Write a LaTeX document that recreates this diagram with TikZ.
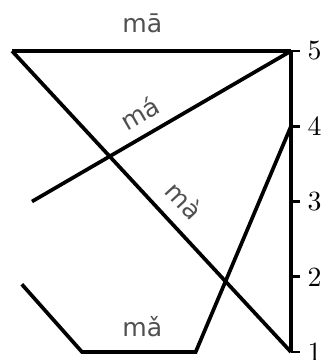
\documentclass[tikz,border=0pt]{standalone}
\usepackage{fontspec}
\usepackage{tikz}
\newfontfamily\tonefont{DejaVu Sans}
\definecolor{labelGray}{RGB}{80, 80, 80}

\begin{document}
\begin{tikzpicture}[
    tone/.style={line width=1.4pt},
    syll/.style={font=\tonefont\fontsize{9.5}{11}\selectfont, text=labelGray, inner sep=2pt}
  ]
      \useasboundingbox (0,-0.106) rectangle (4.266,4.678);

      % pitch scale 1..5
      \draw[tone] (3.867,0) -- (3.867,4);
      \foreach \n in {1,...,5}
        \draw[line width=1pt] (3.867,\n-1) -- ++(0.12,0) node[right=-1pt, font=\fontsize{10.5}{12}\selectfont] (lvl\n) {\n};

      % turning points of the contours
      \coordinate (A) at (0.16,4);
      \coordinate (B) at (3.867,4);
      \coordinate (C) at (0.425,2);
      \coordinate (D) at (0.29,0.9);
      \coordinate (E) at (1.09,0);
      \coordinate (F) at (2.6,0);
      \coordinate (G) at (3.867,3);
      \coordinate (H) at (3.867,0);

      % tone 1: 55
      \draw[tone] (A) -- node[syll, pos=0.467, above=4pt] (t1) {mā} (B);
      % tone 2: 35
      \draw[tone] (C) -- node[syll, pos=0.459, sloped, above=2pt] (t2) {má} (B);
      % tone 3: 214
      \draw[tone] (D) -- (E) -- node[syll, pos=0.53, above=3pt] (t3) {mǎ} (F) -- (G);
      % tone 4: 51
      \draw[tone] (A) -- node[syll, pos=0.552, sloped, above=3pt] (t4) {mà} (H);
    \end{tikzpicture}
\end{document}
